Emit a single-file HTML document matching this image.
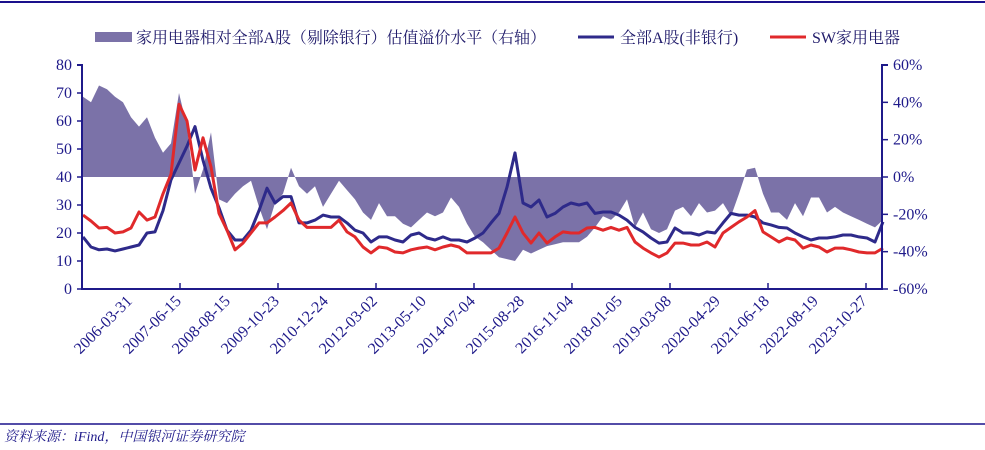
<!DOCTYPE html>
<html><head><meta charset="utf-8">
<style>
body{margin:0;background:#fff;width:985px;height:450px;overflow:hidden}
svg{display:block;font-family:"Liberation Serif","Noto Serif CJK SC",serif}
</style></head><body>
<svg id="chart" width="985" height="450" xmlns="http://www.w3.org/2000/svg">
<line x1="0" y1="2" x2="985" y2="2" stroke="#1a108c" stroke-width="2"/>
<g id="legend">
<rect x="95" y="32" width="37" height="10" fill="#7b72a8"/>
<text x="136" y="43" font-size="16" fill="#1f1a6a" textLength="410" lengthAdjust="spacing">家用电器相对全部A股（剔除银行）估值溢价水平（右轴）</text>
<line x1="578" y1="37" x2="614" y2="37" stroke="#2e2a8a" stroke-width="3"/>
<text x="620" y="43" font-size="16" fill="#1f1a6a">全部A股(非银行)</text>
<line x1="770" y1="37" x2="806" y2="37" stroke="#e0292b" stroke-width="3"/>
<text x="812" y="43" font-size="16" fill="#1f1a6a">SW家用电器</text>
</g>
<g id="plot"></g>
<line x1="0" y1="424" x2="985" y2="424" stroke="#1a108c" stroke-width="1.5"/>
<text x="4" y="441" font-size="14" font-style="italic" fill="#1f1a8a">资料来源：iFind，中国银河证券研究院</text>
</svg>
<script>
const categories=["2006-03-31","2007-06-15","2008-08-15","2009-10-23","2010-12-24","2012-03-02","2013-05-10","2014-07-04","2015-08-28","2016-11-04","2018-01-05","2019-03-08","2020-04-29","2021-06-18","2022-08-19","2023-10-27"];
const leftTicks=[0,10,20,30,40,50,60,70,80];
const rightTicks=[-60,-40,-20,0,20,40,60];
const allA=[18.6,15,14,14.3,13.6,14.3,15,15.7,20,20.4,28,39,45,51,58,46,36,29,21,17.5,17.5,21,28,36,30.7,33,33,23.6,23.6,24.6,26.4,25.7,25.7,23.6,
21,20,16.8,18.6,18.6,17.5,16.8,19.3,20,18.2,17.5,18.6,17.5,17.5,16.8,18.2,20,23.6,27,36.4,48.6,30.7,29.3,31.8,25.7,27,29.3,30.7,30,30.7,27,27.5,27.5,
26.4,24.6,22,20.4,18.2,16.4,16.8,21.8,20,20,19.3,20.4,20,23.6,27,26.4,26.4,25.7,23.6,22.9,22,21.8,20,18.6,17.5,18.2,18.2,18.6,19.3,19.3,18.6,18.2,16.8,24];
const swApp=[26.4,24.3,21.8,22,20,20.4,21.8,27.5,24.6,25.7,34,41,66,60,42.5,54,43.6,27,21,14,16.4,20,23.6,23.6,25.7,28,30.7,24.6,22,22,22,22,24.6,20.4,
18.6,15,12.9,15,14.6,13.2,12.9,14,14.6,15,14,15,15.7,15,12.9,12.9,12.9,12.9,14.6,20,25.7,20,16.4,20,16.4,18.6,20.4,20,20,21.8,22,21,22,
21,22,16.8,14.6,12.9,11.4,12.9,16.4,16.4,15.7,15.7,16.8,15,20,22,24,25.7,28,20.4,18.6,16.8,18.2,17.5,14.6,15.7,15,13.2,14.6,14.6,14,13.2,12.9,12.9,14.6];
const premium=[43,40,49,47,43,40,32,27,32,21,13,18,45,27,-9,4,24,-12,-14,-9,-5,-2,-16,-28,-14,-9,5,-5,-9,-5,-16,-9,-2,-7,
-12,-19,-23,-14,-21,-21,-25,-27,-23,-19,-21,-19,-11,-16,-25,-32,-35,-39,-43,-44,-45,-39,-41,-39,-37,-36,-35,-35,-35,-32,-27,-21,-23,
-19,-12,-27,-19,-28,-30,-28,-18,-16,-21,-14,-19,-18,-14,-21,-9,4,5,-9,-19,-19,-23,-14,-21,-11,-11,-19,-16,-19,-21,-23,-25,-27,-23];

const NS="http://www.w3.org/2000/svg";
const plot=document.getElementById('plot');
const X0=83,X1=883,YT=65,YB=289;
const xS=i=>X0+(X1-X0)*i/(allA.length-1);
const yL=v=>YB-(v/80)*(YB-YT);
const yR=p=>YT+(60-p)/120*(YB-YT);
const axisC="#1f1a8a";
function mk(tag,attrs){const e=document.createElementNS(NS,tag);for(const k in attrs)e.setAttribute(k,attrs[k]);plot.appendChild(e);return e;}

let d="M"+xS(0)+","+yR(0);
premium.forEach((p,i)=>{d+=" L"+xS(i).toFixed(1)+","+yR(p).toFixed(1);});
d+=" L"+xS(premium.length-1)+","+yR(0)+" Z";
const area=mk('path',{d:d,fill:"#7b72a8"});



function line(arr,color,name){
  const pts=arr.map((v,i)=>xS(i).toFixed(1)+","+yL(v).toFixed(1)).join(" ");
  const l=mk('polyline',{points:pts,fill:"none",stroke:color,"stroke-width":3,"stroke-linejoin":"round"});
  
  
}
line(allA,"#2e2a8a","line-all-a-share");
line(swApp,"#e0292b","line-sw-appliance");

const la=mk('path',{d:`M${X0-6},${YT} H${X0-1} V${YB} H${X1-1} V${YT} H${X1+5}`,fill:"none",stroke:axisC,"stroke-width":2});


leftTicks.forEach(v=>{
  const y=yL(v);
  const t=mk('line',{x1:X0-6,y1:y,x2:X0-1,y2:y,stroke:axisC,"stroke-width":1.5});
  
  
  const tx=mk('text',{x:72,y:y+5,"text-anchor":"end","font-size":16,fill:axisC});
  tx.textContent=v;
  
  
});
rightTicks.forEach(p=>{
  const y=yR(p);
  const t=mk('line',{x1:X1-1,y1:y,x2:X1+5,y2:y,stroke:axisC,"stroke-width":1.5});
  
  
  const tx=mk('text',{x:893,y:y+5,"font-size":16,fill:axisC});
  tx.textContent=p+"%";
  
  
});
categories.forEach((c,k)=>{
  const x=133+49*k;
  if(k%2==1){
    const t=mk('line',{x1:x-2,y1:YB,x2:x-2,y2:YB-6,stroke:axisC,"stroke-width":1.5});
    
    
  }
  const tx=mk('text',{x:x,y:302,"text-anchor":"end","font-size":16,fill:axisC,transform:`rotate(-45 ${x} 302)`});
  tx.textContent=c;
  
  
});
</script>
</body></html>
